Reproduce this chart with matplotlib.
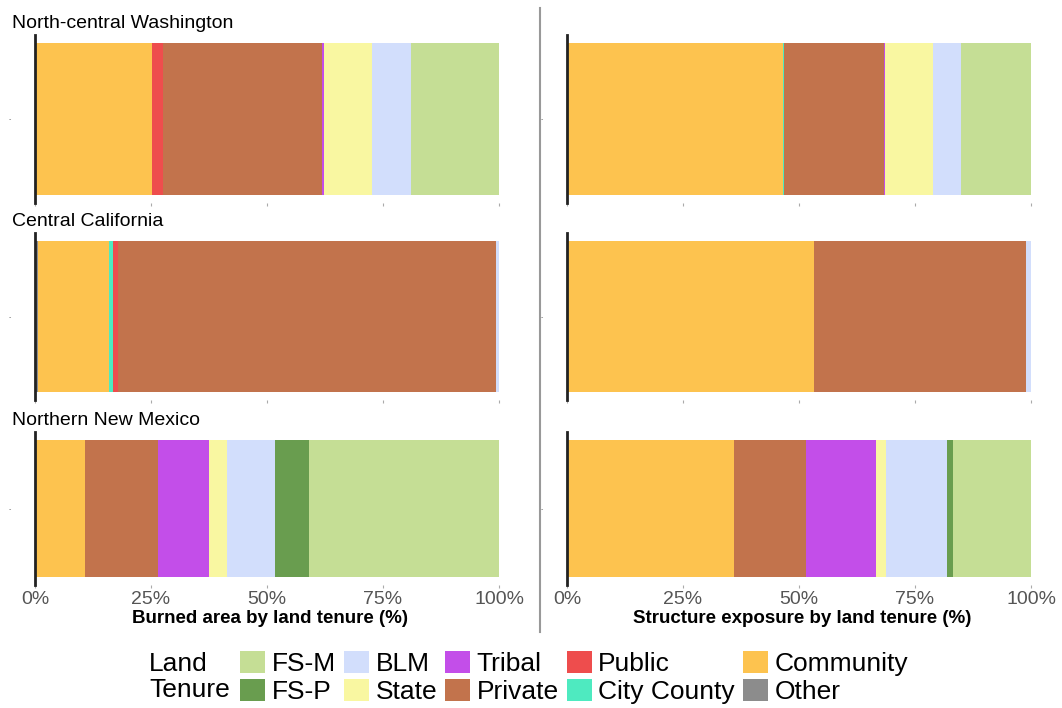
import numpy as np
import matplotlib
matplotlib.use("Agg")
import matplotlib.pyplot as plt
from matplotlib.patches import Patch

plt.rcParams['font.family'] = ['Liberation Sans', 'DejaVu Sans']

# regions (top to bottom)
regions = ["North-central Washington", "Central California", "Northern New Mexico"]

# land tenure classes, in legend order
tenures = ["FS-M", "FS-P", "BLM", "State", "Tribal", "Private",
           "Public", "City County", "Community", "Other"]
colors = ["#c5de95", "#699d4f", "#d2defc", "#f9f7a1", "#c34ee9", "#c2734c",
          "#ee4d4d", "#4eeac0", "#fdc34f", "#8c8c8c"]

# burned area share (%) per region
burned = {
    "FS-M":        [18.9, 0.0, 40.9],
    "FS-P":        [0.0, 0.0, 7.3],
    "BLM":         [8.4, 0.7, 10.5],
    "State":       [10.5, 0.0, 3.9],
    "Tribal":      [0.3, 0.0, 10.9],
    "Private":     [34.3, 81.5, 15.8],
    "Public":      [2.4, 1.0, 0.0],
    "City County": [0.0, 0.9, 0.0],
    "Community":   [25.2, 15.2, 10.7],
    "Other":       [0.0, 0.7, 0.0],
}

# structure exposure share (%) per region
exposure = {
    "FS-M":        [15.2, 0.0, 16.8],
    "FS-P":        [0.0, 0.0, 1.4],
    "BLM":         [6.0, 1.1, 13.0],
    "State":       [10.2, 0.0, 2.2],
    "Tribal":      [0.3, 0.0, 15.2],
    "Private":     [21.5, 45.7, 15.5],
    "Public":      [0.0, 0.0, 0.0],
    "City County": [0.3, 0.0, 0.0],
    "Community":   [46.5, 53.2, 35.9],
    "Other":       [0.0, 0.0, 0.0],
}

xticks = [0, 25, 50, 75, 100]
xticklabels = ["0%", "25%", "50%", "75%", "100%"]
xlabels = ["Burned area by land tenure (%)", "Structure exposure by land tenure (%)"]

W, H = 1062, 708
fig = plt.figure(figsize=(W / 100, H / 100), dpi=100)

# panel boxes in pixels: (top, bottom)
rows_px = [(35, 203), (233, 400), (432, 585)]
cols_px = [35, 567]
panel_w = 471

stack_order = tenures[::-1]  # Other on the left, FS-M on the right

for c, data in enumerate([burned, exposure]):
    for r in range(3):
        top, bot = rows_px[r]
        ax = fig.add_axes([cols_px[c] / W, 1 - bot / H, panel_w / W, (bot - top) / H])
        left = 0.0
        for t in stack_order:
            v = data[t][r]
            if v > 0:
                ax.barh(0, v, left=left, height=0.9, color=colors[tenures.index(t)],
                        edgecolor="none")
            left += v
        ax.set_xlim(0, 101.5)
        ax.set_ylim(-0.5, 0.5)
        for s in ["top", "right", "bottom"]:
            ax.spines[s].set_visible(False)
        ax.spines["left"].set_linewidth(2)
        ax.spines["left"].set_color("#222222")
        ax.set_yticks([0])
        ax.set_yticklabels(["-"], fontsize=5, color="#666666")
        ax.tick_params(axis="y", length=0, pad=17)
        ax.set_xticks(xticks)
        ax.tick_params(axis="x", length=2, width=0.8, color="#aaaaaa", pad=2)
        if r == 2:
            ax.set_xticklabels(xticklabels, fontsize=14, color="#555555")
            ax.set_xlabel(xlabels[c], fontsize=13.5, fontweight="bold", labelpad=2)
        else:
            ax.set_xticklabels([])
        if c == 0:
            fig.text(12 / W, 1 - (top - 7) / H, regions[r], fontsize=14, va="baseline")

# separator between the two columns
fig.add_artist(plt.Line2D([540 / W, 540 / W], [1 - 8 / H, 1 - 632 / H],
                          color="#999999", linewidth=1.5))

# legend
handles = [Patch(facecolor=col, edgecolor="none") for col in colors]
fig.legend(handles, tenures, ncol=5, loc="upper left",
           bbox_to_anchor=(240 / W, 1 - 651 / H), frameon=False, fontsize=19,
           handlelength=0.95, handleheight=0.9, handletextpad=0.25,
           labelspacing=0.1, columnspacing=0.3, borderpad=0, borderaxespad=0)
fig.text(149 / W, 1 - 652 / H, "Land\nTenure", fontsize=19, va="top",
         linespacing=1.1)

fig.savefig("out.png", dpi=100)
